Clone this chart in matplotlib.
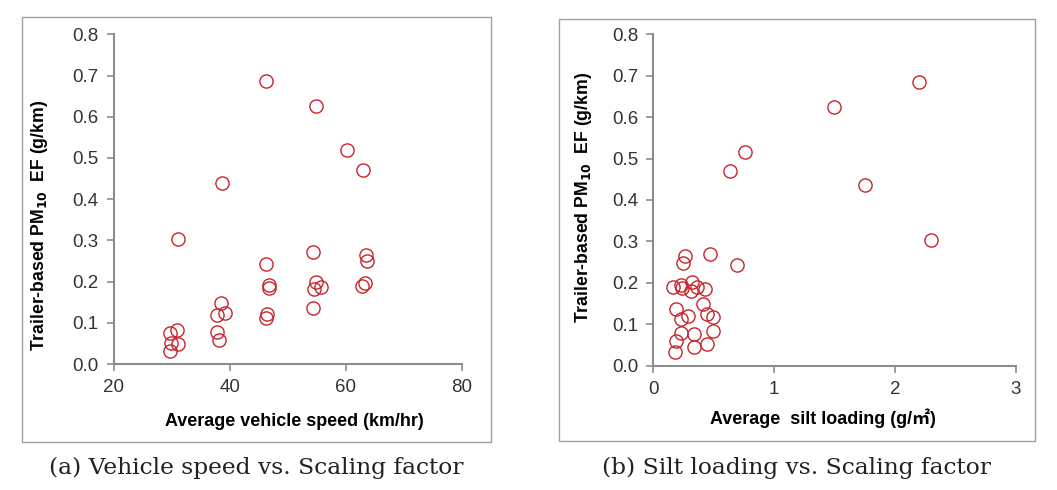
import matplotlib
matplotlib.use("Agg")
import matplotlib.pyplot as plt
from matplotlib.patches import Rectangle

speed = [46.2, 54.9, 60.2, 63.0, 38.7, 31.1, 54.3, 63.5, 63.7, 46.2,
         54.8, 46.8, 46.7, 54.4, 55.7, 63.3, 62.7, 54.3, 38.5, 37.7,
         39.2, 46.3, 46.2, 30.8, 29.7, 37.7, 38.1, 29.9, 31.0, 29.6]
ef_a = [0.686, 0.627, 0.519, 0.471, 0.438, 0.304, 0.271, 0.265, 0.249, 0.242,
        0.200, 0.191, 0.184, 0.182, 0.187, 0.196, 0.190, 0.137, 0.148, 0.119,
        0.124, 0.121, 0.112, 0.083, 0.075, 0.078, 0.059, 0.051, 0.048, 0.032]

silt = [2.195, 1.497, 0.755, 0.637, 1.754, 2.299, 0.469, 0.265, 0.243, 0.695,
        0.320, 0.229, 0.160, 0.234, 0.358, 0.309, 0.425, 0.414, 0.187, 0.287,
        0.444, 0.491, 0.226, 0.491, 0.229, 0.339, 0.187, 0.444, 0.336, 0.176]
ef_b = [0.684, 0.625, 0.517, 0.470, 0.437, 0.303, 0.270, 0.266, 0.248, 0.242,
        0.201, 0.196, 0.191, 0.188, 0.189, 0.180, 0.185, 0.148, 0.137, 0.121,
        0.124, 0.117, 0.112, 0.084, 0.079, 0.076, 0.060, 0.052, 0.046, 0.032]

yticks = [0.0, 0.1, 0.2, 0.3, 0.4, 0.5, 0.6, 0.7, 0.8]
ytick_labels = ["0.0", "0.1", "0.2", "0.3", "0.4", "0.5", "0.6", "0.7", "0.8"]
xticks_a = [20, 40, 60, 80]
xticks_b = [0, 1, 2, 3]

W, H = 1057, 490
fig = plt.figure(figsize=(W / 100, H / 100), dpi=100)
fig.patch.set_facecolor("white")

SANS = ["Liberation Sans", "DejaVu Sans"]
red = "#C8242C"
gray = "#8C8C8C"
tickc = "#333333"


def fx(px):
    return px / W


def fy(py):
    return 1 - py / H


def style(ax, xticks, xlim):
    ax.set_xlim(xlim)
    ax.set_ylim(0, 0.8)
    ax.set_xticks(xticks)
    ax.set_xticklabels([str(t) for t in xticks])
    ax.set_yticks(yticks)
    ax.set_yticklabels(ytick_labels)
    for s in ["top", "right"]:
        ax.spines[s].set_visible(False)
    for s in ["left", "bottom"]:
        ax.spines[s].set_color(gray)
        ax.spines[s].set_linewidth(1.5)
    ax.tick_params(direction="out", length=5, width=1.2, color=gray,
                   labelcolor=tickc, labelsize=13.5, pad=6)
    for lab in ax.get_xticklabels() + ax.get_yticklabels():
        lab.set_family(SANS)
    ax.set_facecolor("none")


# panel a
ax1 = fig.add_axes([fx(114), fy(364), fx(462) - fx(114), fy(34.3) - fy(364)])
ax1.plot(speed, ef_a, linestyle="none", marker="o", markersize=9.5,
         markerfacecolor="none", markeredgecolor=red, markeredgewidth=1.0,
         clip_on=False)
style(ax1, xticks_a, (20, 80))

# panel b
ax2 = fig.add_axes([fx(653.3), fy(365.7), fx(1016) - fx(653.3), fy(34.3) - fy(365.7)])
ax2.plot(silt, ef_b, linestyle="none", marker="o", markersize=9.5,
         markerfacecolor="none", markeredgecolor=red, markeredgewidth=1.0,
         clip_on=False)
style(ax2, xticks_b, (0, 3))

# frames
fig.add_artist(Rectangle((fx(22), fy(442)), fx(491) - fx(22), fy(17) - fy(442),
                         transform=fig.transFigure, fill=False,
                         edgecolor="#A0A0A0", linewidth=1.0))
fig.add_artist(Rectangle((fx(559), fy(441)), fx(1035) - fx(559), fy(19) - fy(441),
                         transform=fig.transFigure, fill=False,
                         edgecolor="#A0A0A0", linewidth=1.0))

ylab = r"Trailer-based PM$_{\mathbf{10}}$  EF (g/km)"
fig.text(fx(40), fy(225), ylab, rotation=90, ha="center", va="center",
         fontsize=12.7, fontweight="bold", family=SANS, color="black")
fig.text(fx(583), fy(197), ylab, rotation=90, ha="center", va="center",
         fontsize=12.7, fontweight="bold", family=SANS, color="black")

fig.text(fx(294), fy(421), "Average vehicle speed (km/hr)", ha="center", va="center",
         fontsize=12.9, fontweight="bold", family=SANS, color="black")
fig.text(fx(823), fy(418), "Average  silt loading (g/㎡)", ha="center", va="center",
         fontsize=12.9, fontweight="bold",
         family=["Liberation Sans", "Noto Sans CJK KR", "DejaVu Sans"], color="black")

fig.text(fx(256), fy(468), "(a) Vehicle speed vs. Scaling factor", ha="center", va="center",
         fontsize=16.8, family=["DejaVu Serif"], color="#222222")
fig.text(fx(796), fy(468), "(b) Silt loading vs. Scaling factor", ha="center", va="center",
         fontsize=16.8, family=["DejaVu Serif"], color="#222222")

fig.savefig("out.png", dpi=100, facecolor="white")
